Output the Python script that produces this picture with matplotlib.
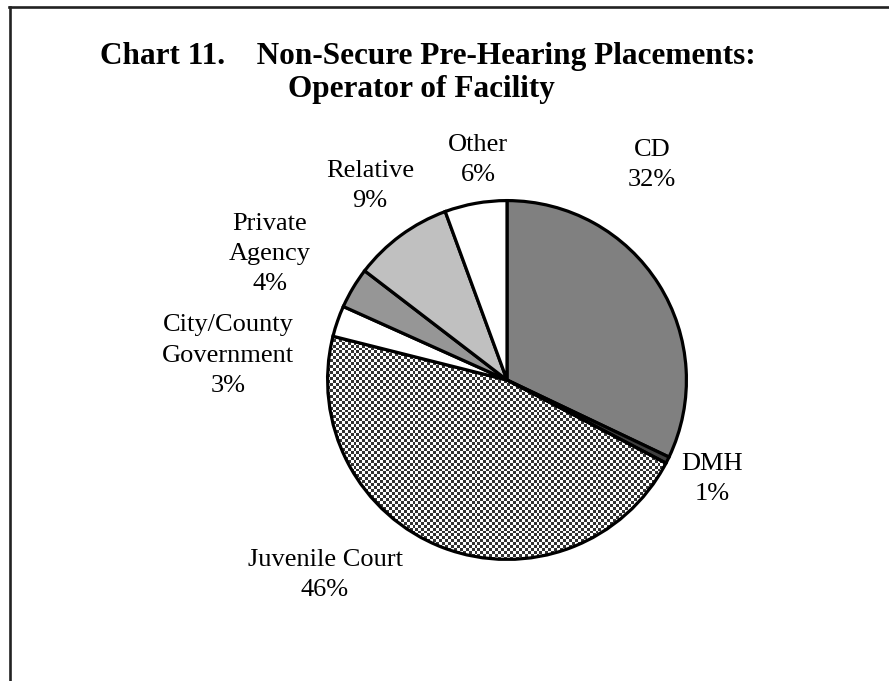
import numpy as np
import matplotlib.pyplot as plt
from matplotlib.lines import Line2D
from matplotlib.colors import ListedColormap

# slice values (percent), clockwise from 12 o'clock
labels = ['CD', 'DMH', 'Juvenile Court', 'City/County\nGovernment',
          'Private\nAgency', 'Relative', 'Other']
values = [32.1, 0.6, 46.3, 2.8, 3.7, 9.0, 5.6]
colors = ['#808080', '#404040', 'none', 'white', '#969696', '#c0c0c0', 'white']

W, H = 889, 681
fig = plt.figure(figsize=(W / 100, H / 100), dpi=100)

# page border (top and left only)
fig.add_artist(Line2D([9 / W, 1], [1 - 7 / H, 1 - 7 / H], color='#222222', lw=1.9))
fig.add_artist(Line2D([10 / W, 10 / W], [1 - 7 / H, 0], color='#222222', lw=1.9))

# title
fig.text(100 / W, 1 - 64 / H, 'Chart 11.    Non-Secure Pre-Hearing Placements:',
         family='Liberation Serif', weight='bold', fontsize=22.5, va='baseline')
fig.text(288 / W, 1 - 97 / H, 'Operator of Facility',
         family='Liberation Serif', weight='bold', fontsize=22.5, va='baseline')

# pie
cx, cy, r = 507, 380, 183
ax = fig.add_axes([(cx - r) / W, (H - cy - r) / H, 2 * r / W, 2 * r / H])
wedges, _ = ax.pie(values, colors=colors, startangle=90, counterclock=False,
                   wedgeprops=dict(edgecolor='black', linewidth=2.3))
for w in wedges:
    w.set_zorder(2)
ax.set_xlim(-1.02, 1.02)
ax.set_ylim(-1.02, 1.02)
ax.set_aspect('equal')
ax.axis('off')

# checkered fill for Juvenile Court
n = 124
ii, jj = np.indices((n, n))
checker = (ii + jj) % 2
im = ax.imshow(checker, cmap=ListedColormap(['#ffffff', '#333333']),
               extent=(-1.02, 1.02, -1.02, 1.02), interpolation='nearest', zorder=1)
im.set_clip_path(wedges[2])

# slice labels
pct = [f'{round(v)}%' for v in values]
label_pos = [(652, 165), (712, 479), (325, 575), (228, 356), (270, 254), (370, 186), (478, 160)]
for lab, p, (x, y) in zip(labels, pct, label_pos):
    fig.text(x / W, 1 - y / H, lab + '\n' + p, family='Liberation Serif', fontsize=19,
             ha='center', va='center', linespacing=1.5)

fig.savefig('out.png', dpi=100)
